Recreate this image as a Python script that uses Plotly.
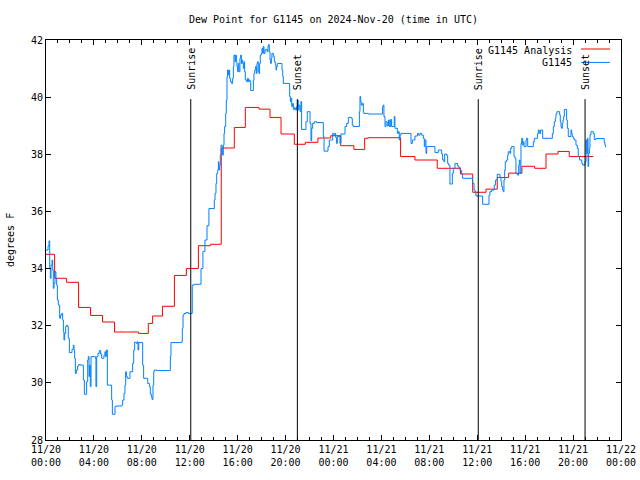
import plotly.graph_objects as go
import pandas as pd

start = pd.Timestamp("2024-11-20 00:00")
end = pd.Timestamp("2024-11-22 00:00")

# G1145 observations: hours since 11/20 00:00 UTC, dew point (F)
obs_hours = [
    0.00, 0.17, 0.25, 0.31, 0.36, 0.42, 0.50, 0.56, 0.61, 0.67, 0.75, 0.83, 0.89, 0.95,
    1.03, 1.14, 1.22, 1.31, 1.39, 1.45, 1.50, 1.56, 1.64, 1.73, 1.81, 1.86, 1.95,
    2.17, 2.28, 2.34, 2.39, 2.45, 2.53, 2.64, 2.73, 2.89, 3.12, 3.20, 3.39, 3.48, 3.53,
    3.59, 3.64, 3.70, 3.76, 4.03, 4.12, 4.17, 4.23, 4.34, 4.45, 4.56, 4.65, 4.84, 4.92,
    4.98, 5.04, 5.12, 5.48, 5.54, 5.76, 5.84, 6.32, 6.40, 6.51, 6.59, 6.65, 6.71, 6.79,
    7.01, 7.23, 7.32, 7.40, 7.54, 7.62, 7.68, 7.74, 8.07, 8.15, 8.49, 8.63, 8.71, 8.79,
    8.85, 8.93, 8.99, 9.04, 9.24, 10.38, 10.43, 11.32, 11.38, 11.44, 11.52, 11.69, 11.88,
    12.21, 12.35, 12.94, 13.10, 13.27, 13.44, 13.60, 14.05, 14.11, 14.19, 14.25, 14.33,
    14.39, 14.44, 14.50, 14.55, 14.61, 14.69, 14.75, 14.80, 14.86, 14.91, 15.00, 15.05,
    15.11, 15.16, 15.22, 15.28, 15.33, 15.39, 15.50, 15.58, 15.64, 15.69, 15.78, 15.83,
    15.89, 15.94, 16.00, 16.05, 16.11, 16.19, 16.25, 16.31, 16.36, 16.42, 16.47, 16.53,
    16.58, 16.64, 16.75, 16.83, 16.89, 16.95, 17.03, 17.09, 17.31, 17.36, 17.42, 17.50,
    17.56, 17.61, 17.67, 17.72, 17.78, 17.83, 17.89, 17.97, 18.03, 18.09, 18.14, 18.20,
    18.28, 18.36, 18.45, 18.53, 18.59, 18.64, 18.70, 18.75, 18.81, 18.86, 18.98, 19.06,
    19.14, 19.20, 19.25, 19.31, 19.70, 19.76, 19.81, 20.34, 20.40, 20.45, 20.51, 20.59,
    20.65, 20.73, 20.81, 20.92, 20.98, 21.06, 21.11, 21.20, 21.28, 21.34, 21.70, 21.81,
    22.04, 22.12, 22.18, 22.26, 22.40, 22.59, 23.15, 23.21, 23.54, 23.65, 23.93, 24.04,
    24.12, 24.18, 24.26, 24.32, 24.54, 24.62, 24.96, 25.10, 25.24, 25.51, 25.57, 25.65,
    26.16, 26.21, 26.27, 26.32, 26.41, 26.49, 26.54, 26.91, 28.10, 28.16, 28.21, 28.30,
    28.38, 28.49, 28.58, 28.66, 28.77, 28.85, 29.07, 29.13, 29.33, 29.41, 29.49, 29.55,
    29.63, 30.47, 30.58, 30.80, 31.02, 31.11, 31.22, 31.36, 31.50, 31.58, 31.64, 31.72,
    31.78, 32.47, 32.75, 33.03, 33.11, 33.22, 33.28, 33.44, 33.53, 33.61, 33.72, 33.92,
    34.00, 34.14, 34.36, 34.45, 34.56, 34.70, 34.78, 35.61, 35.73, 35.81, 35.89, 36.45,
    36.98, 37.06, 37.20, 37.42, 37.53, 37.67, 37.90, 37.98, 38.04, 38.12, 38.17, 38.23,
    38.29, 38.34, 38.45, 38.54, 38.59, 38.73, 38.79, 38.87, 39.07, 39.15, 39.23, 39.37,
    39.46, 39.51, 39.57, 39.65, 39.71, 39.79, 39.84, 39.90, 40.07, 40.12, 40.21, 40.68,
    40.76, 41.04, 41.10, 41.18, 41.29, 41.46, 42.27, 42.35, 42.43, 42.52, 42.57, 42.65,
    42.88, 42.93, 42.99, 43.04, 43.10, 43.16, 43.21, 43.27, 43.46, 43.52, 43.60, 43.82,
    43.88, 43.93, 44.02, 44.10, 44.24, 44.35, 44.43, 44.54, 44.73, 44.81, 45.00, 45.08,
    45.14, 45.19, 45.25, 45.30, 45.36, 45.41, 45.49, 45.69, 45.77, 45.91, 46.60, 46.66,
    46.72,
]
obs_values = [
    34.65, 34.79, 34.97, 34.01, 33.66, 34.12, 34.30, 33.95, 33.31, 33.48, 33.89, 33.66, 33.42, 32.90,
    32.72, 32.26, 32.37, 32.43, 32.20, 31.79, 31.50, 31.73, 31.97, 32.02, 31.97, 31.56, 31.06,
    31.17, 31.32, 31.15, 30.86, 30.33, 30.45, 30.59, 30.64, 30.62, 30.10, 29.60, 30.04, 30.80, 30.92,
    30.22, 30.62, 29.87, 30.92, 30.92, 30.86, 29.87, 30.92, 31.03, 31.13, 31.01, 30.86, 30.97, 31.09,
    30.92, 31.15, 29.92, 29.40, 28.90, 29.17, 29.19, 29.22, 29.40, 29.63, 29.92, 30.39, 30.22, 30.16,
    30.39, 30.68, 31.15, 31.42, 31.38, 31.44, 31.15, 31.41, 30.62, 30.16, 29.98, 29.87, 29.61, 29.52,
    29.42, 29.92, 30.39, 30.45, 30.43, 30.94, 31.41, 31.44, 31.91, 32.37, 32.43, 32.46, 32.43,
    33.42, 33.45, 34.00, 34.60, 35.00, 35.50, 36.10, 36.40, 36.63, 36.98, 37.33, 37.45,
    37.74, 37.45, 37.62, 37.97, 38.32, 38.27, 37.97, 38.32, 38.73, 38.97, 39.43, 39.90,
    40.72, 40.95, 40.78, 40.95, 40.66, 40.54, 40.48, 40.66, 41.07, 41.47, 41.24, 41.47,
    41.24, 41.07, 40.89, 41.18, 40.89, 41.36, 41.47, 41.18, 41.30, 41.18, 41.01, 41.24,
    40.89, 40.60, 40.54, 40.66, 40.54, 40.60, 40.54, 40.23, 40.60, 40.83, 40.95, 41.07,
    40.83, 41.18, 41.24, 40.89, 40.83, 41.18, 41.47, 41.53, 41.71, 41.53, 41.77, 41.53,
    41.65, 41.67, 41.59, 41.79, 41.84, 41.59, 41.30, 41.18, 41.36, 41.53, 41.42, 41.24,
    41.13, 40.95, 41.07, 41.18, 40.95, 40.72, 40.48, 40.02, 39.84, 39.96, 39.67, 39.78,
    39.57, 39.63, 39.55, 39.67, 39.90, 39.55, 39.72, 39.50, 39.85, 38.87, 39.14, 39.49,
    39.08, 38.47, 38.91, 39.08, 39.14, 39.11, 38.62, 38.11, 38.27, 38.50, 38.73, 38.67,
    38.73, 38.59, 38.38, 38.62, 38.38, 38.71, 38.97, 39.08, 39.29, 39.26, 39.02, 38.97,
    39.49, 40.02, 39.84, 39.72, 39.78, 39.46, 39.43, 39.41, 39.67, 39.72, 39.32, 38.97,
    39.14, 38.99, 39.20, 38.97, 39.22, 38.97, 39.32, 38.91, 38.73, 38.79, 38.50, 38.67,
    38.73, 38.38, 38.50, 38.64, 38.73, 38.67, 38.73, 38.67, 38.56, 38.27, 38.50, 38.03,
    38.27, 38.06, 38.15, 38.01, 37.80, 37.74, 38.01, 37.97, 37.68, 37.62, 36.96, 37.33,
    37.51, 37.68, 37.59, 37.54, 37.43, 37.31, 37.16, 36.98, 36.75, 36.69, 36.54, 36.25,
    36.57, 36.69, 36.75, 36.92, 37.10, 37.30, 37.19, 37.05, 36.87, 36.75, 36.69, 37.10,
    37.45, 37.74, 37.80, 37.97, 38.09, 38.03, 38.21, 38.27, 37.92, 37.86, 37.33, 37.27,
    37.62, 37.80, 37.33, 38.38, 38.56, 38.32, 38.44, 38.27, 38.50, 38.56, 38.27, 38.44,
    38.56, 38.73, 38.85, 38.73, 38.85, 38.56, 38.73, 38.97, 39.14, 39.26, 39.41, 39.49,
    39.38, 39.14, 38.97, 38.91, 39.08, 39.20, 39.32, 39.57, 39.20, 38.91, 38.62, 38.85,
    38.73, 38.62, 38.56, 38.50, 38.32, 38.21, 37.92, 37.80, 37.68, 37.62, 37.74, 38.50,
    38.03, 38.56, 37.57, 38.03, 38.21, 38.68, 38.79, 38.73, 38.52, 38.55, 38.41, 38.32,
    38.24,
]

# G1145 Analysis (hourly steps)
ana_hours = [
    0.00, 0.72, 1.72, 2.72, 3.72, 4.72, 5.72, 6.72, 7.72, 8.54, 8.90, 9.72, 10.72, 11.72,
    12.72, 13.72, 14.63, 15.72, 16.64, 17.78, 18.70, 19.62, 20.73, 21.65, 22.70, 23.77,
    24.60, 25.70, 26.60, 26.90, 29.60, 30.80, 32.66, 34.60, 35.62, 36.73, 37.67, 38.62,
    39.73, 40.79, 41.74, 42.74, 43.68, 45.69,
]
ana_values = [
    34.50, 33.66, 33.52, 32.64, 32.36, 32.13, 31.78, 31.78, 31.73, 32.08, 32.34, 32.68, 33.76, 34.00,
    34.80, 34.85, 38.22, 38.94, 39.64, 39.58, 39.29, 38.71, 38.35, 38.42, 38.57, 38.65,
    38.30, 38.17, 38.56, 38.58, 37.92, 37.80, 37.51, 37.31, 36.67, 36.78, 37.19, 37.34,
    37.58, 37.51, 38.01, 38.10, 37.92, 37.92,
]

sun_times = ["2024-11-20 12:05", "2024-11-20 20:59", "2024-11-21 12:05", "2024-11-21 21:00"]
sun_labels = ["Sunrise", "Sunset", "Sunrise", "Sunset"]

FONT = "DejaVu Sans Mono"
BLUE = "#0080ff"
RED = "#ff0000"


def to_time(hours):
    return [start + pd.Timedelta(hours=h) for h in hours]


fig = go.Figure()
fig.add_trace(go.Scatter(x=to_time(ana_hours), y=ana_values, mode="lines",
                         line=dict(color=RED, width=1, shape="hv"),
                         name="G1145 Analysis", showlegend=False))
fig.add_trace(go.Scatter(x=to_time(obs_hours), y=obs_values, mode="lines",
                         line=dict(color=BLUE, width=1, shape="hv"),
                         name="G1145", showlegend=False))

for t, lab in zip(sun_times, sun_labels):
    fig.add_shape(type="line", xref="x", yref="y", x0=t, x1=t, y0=28, y1=39.93,
                  line=dict(color="black", width=1))
    fig.add_annotation(x=t, y=40.18, xref="x", yref="y", text=lab, textangle=-90,
                       showarrow=False, xanchor="center", yanchor="bottom",
                       font=dict(family=FONT, size=10, color="black"))

# legend drawn as key
legend_items = [("G1145 Analysis", RED, 0.975, 0.9775), ("G1145", BLUE, 0.944, 0.944)]
for text, col, ty, ly in legend_items:
    fig.add_annotation(x=0.919, y=ty, xref="paper", yref="paper", text=text, showarrow=False,
                       xanchor="right", yanchor="middle",
                       font=dict(family=FONT, size=10, color="black"))
    fig.add_shape(type="line", xref="paper", yref="paper", x0=0.9304, x1=0.9809, y0=ly, y1=ly,
                  line=dict(color=col, width=1))

fig.add_annotation(x=-0.0626, y=0.5, xref="paper", yref="paper", text="degrees F",
                   textangle=-90, showarrow=False, xanchor="center", yanchor="middle",
                   font=dict(family=FONT, size=10, color="black"))

fig.update_layout(
    width=640, height=480,
    margin=dict(l=46, r=19, t=40, b=40, autoexpand=False),
    paper_bgcolor="white", plot_bgcolor="white",
    title=dict(text="Dew Point for G1145 on 2024-Nov-20 (time in UTC)",
               x=0.5, xref="paper", y=1 - 19 / 480, yref="container",
               xanchor="center", yanchor="middle",
               font=dict(family=FONT, size=10, color="black")),
    font=dict(family=FONT, size=10, color="black"),
    showlegend=False,
)
fig.update_xaxes(
    type="date", range=[start, end], tick0=start, dtick=4 * 3600000,
    tickformat="%m/%d<br>%H:%M", ticks="inside", ticklen=5, tickcolor="black",
    showline=True, linecolor="black", linewidth=1, mirror="allticks", showgrid=False,
    zeroline=False, tickfont=dict(family=FONT, size=10, color="black"),
    minor=dict(dtick=3600000, ticks="inside", ticklen=3, tickcolor="black", showgrid=False),
)
fig.update_yaxes(
    range=[28, 42], dtick=2, ticks="inside", ticklen=5, tickcolor="black",
    showline=True, linecolor="black", linewidth=1, mirror="allticks", showgrid=False,
    zeroline=False, tickfont=dict(family=FONT, size=10, color="black"),
)

fig.write_html("out.html", config={"displayModeBar": False},
               post_script="document.body.style.margin='0';")
